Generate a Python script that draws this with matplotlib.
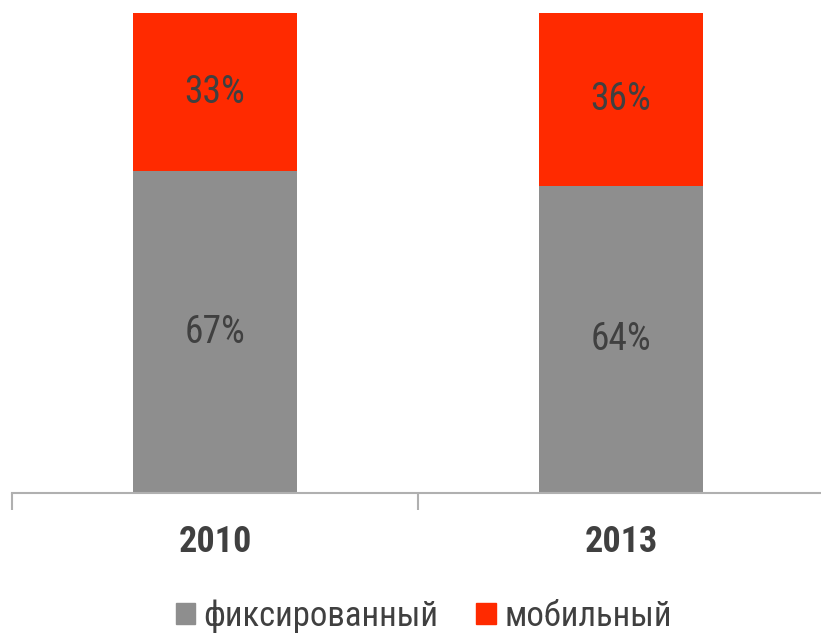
import matplotlib
matplotlib.use("Agg")
import matplotlib.pyplot as plt
from matplotlib.patches import Patch

years = ["2010", "2013"]
fixed = [67, 64]
mobile = [33, 36]
series_names = ["фиксированный", "мобильный"]

plt.rcParams['font.family'] = ['Roboto Condensed', 'DejaVu Sans']

fig = plt.figure(figsize=(8.21, 6.36), dpi=100)
ax = fig.add_axes([12/821, (636-493)/636, 812/821, 480/636])

gray = "#8e8e8e"
red = "#ff2a00"
txt = "#404040"
x = [0, 1]
w = 0.4015
ax.bar(x, fixed, width=w, color=gray)
ax.bar(x, mobile, width=w, bottom=fixed, color=red)
for i in x:
    ax.text(i, fixed[i]/2, f"{fixed[i]}%", ha="center", va="center", fontsize=27, color=txt)
    ax.text(i, fixed[i] + mobile[i]/2, f"{mobile[i]}%", ha="center", va="center", fontsize=27, color=txt)

ax.set_xlim(-0.5, 1.5)
ax.set_ylim(0, 100)
ax.set_yticks([])
for s in ["top", "right", "left"]:
    ax.spines[s].set_visible(False)
ax.spines["bottom"].set_color("#b0b0b0")
ax.spines["bottom"].set_linewidth(1.5)
ax.set_xticks([-0.5, 0.5], minor=True)
ax.tick_params(axis="x", which="minor", length=12, width=1.5, color="#b0b0b0")
ax.set_xticks(x)
ax.set_xticklabels(years, fontsize=26, fontweight="bold", color=txt)
ax.tick_params(axis="x", which="major", length=0, pad=22)

handles = [Patch(color=gray), Patch(color=red)]
fig.legend(handles, series_names, loc="center", bbox_to_anchor=(0.516, 1 - 616/636),
           ncol=2, frameon=False, fontsize=25, handlelength=0.55, handleheight=0.55,
           handletextpad=0.25, columnspacing=1.1, labelcolor=txt)

fig.savefig("out.png", dpi=100)
